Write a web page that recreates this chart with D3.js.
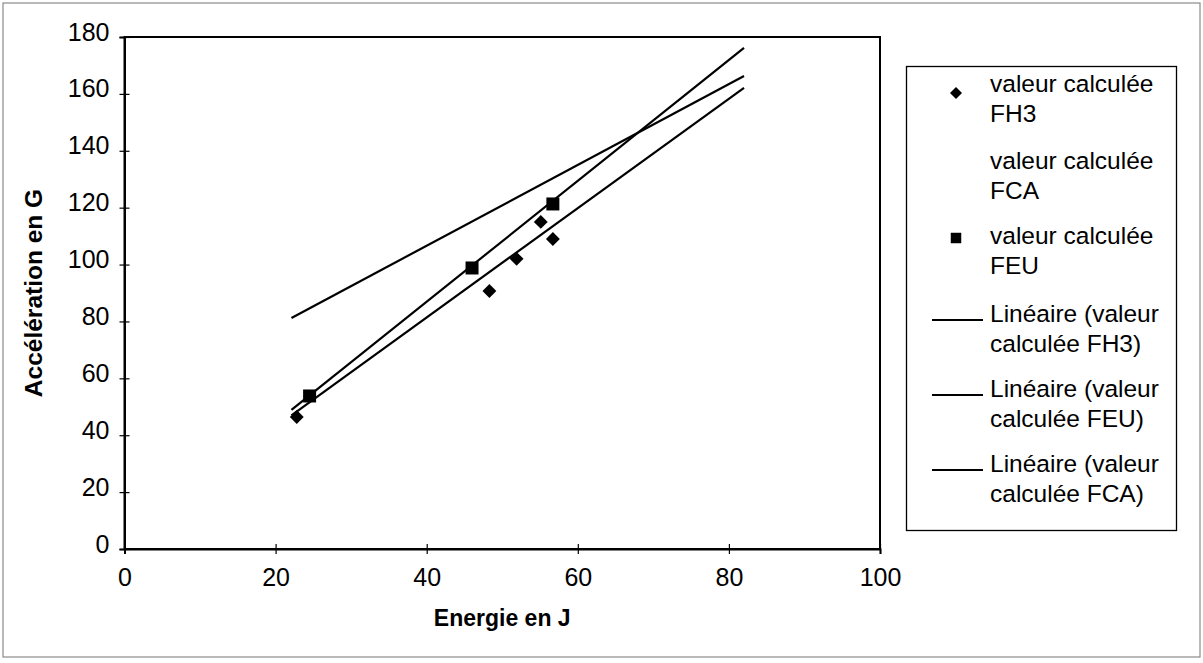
<!DOCTYPE html>
<html>
<head>
<meta charset="utf-8">
<script src="https://cdn.jsdelivr.net/npm/d3@7"></script>
<style>
  body { margin: 0; background: #fff; }
  text { font-family: "Liberation Sans", Arial, sans-serif; fill: #000; }
</style>
</head>
<body>
<div id="chart"></div>
<script>
// values
const fh3X = [22.8, 48.3, 51.9, 55.1, 56.7];
const fh3Y = [46.4, 90.7, 102.0, 115.0, 109.0];
const feuX = [24.5, 46.0, 56.7];
const feuY = [53.8, 98.8, 121.3];

// trend lines (start / end)
const trendFH3 = [[22.1, 47.0], [82.0, 162.1]];
const trendFEU = [[22.1, 48.9], [82.0, 176.2]];
const trendFCA = [[22.1, 81.2], [82.0, 166.3]];

const xTicks = [0, 20, 40, 60, 80, 100];
const yTicks = [0, 20, 40, 60, 80, 100, 120, 140, 160, 180];

const legendItems = [
  {lines: ["valeur calculée", "FH3"], type: "diamond"},
  {lines: ["valeur calculée", "FCA"], type: "none"},
  {lines: ["valeur calculée", "FEU"], type: "square"},
  {lines: ["Linéaire (valeur", "calculée FH3)"], type: "line"},
  {lines: ["Linéaire (valeur", "calculée FEU)"], type: "line"},
  {lines: ["Linéaire (valeur", "calculée FCA)"], type: "line"}
];

const W = 1203, H = 663;
const plot = {left: 124.5, right: 880, top: 37, bottom: 549};

const svg = d3.select("#chart").append("svg")
  .attr("width", W)
  .attr("height", H);

// outer frame of the scanned chart
svg.append("rect")
  .attr("x", 3).attr("y", 3)
  .attr("width", W - 6).attr("height", H - 9)
  .attr("fill", "none")
  .attr("stroke", "#8a8a8a")
  .attr("stroke-width", 1.2);

const x = d3.scaleLinear().domain([0, 100]).range([plot.left, plot.right]);
const y = d3.scaleLinear().domain([0, 180]).range([plot.bottom, plot.top]);

// plot area border
svg.append("rect")
  .attr("x", plot.left).attr("y", plot.top)
  .attr("width", plot.right - plot.left)
  .attr("height", plot.bottom - plot.top)
  .attr("fill", "none")
  .attr("stroke", "#000")
  .attr("stroke-width", 2);

/* Axes */
const xAxis = d3.axisBottom(x).tickValues(xTicks).tickSize(5).tickPadding(14).tickFormat(d3.format("d"));
const yAxis = d3.axisLeft(y).tickValues(yTicks).tickSize(5).tickPadding(10).tickFormat(d3.format("d"));

const gx = svg.append("g")
  .attr("transform", `translate(0, ${plot.bottom})`)
  .call(xAxis);
gx.selectAll(".tick line").attr("y1", -5).attr("y2", 5).attr("stroke-width", 1.2);
gx.select(".domain").attr("stroke-width", 2);
gx.selectAll("text").attr("font-size", 25).attr("font-family", "Liberation Sans, Arial, sans-serif");

const gy = svg.append("g")
  .attr("transform", `translate(${plot.left}, 0)`)
  .call(yAxis);
gy.selectAll(".tick line").attr("x1", -5).attr("x2", 5).attr("stroke-width", 1.2);
gy.select(".domain").attr("stroke-width", 2);
gy.selectAll("text").attr("font-size", 25).attr("dy", "0.12em").attr("font-family", "Liberation Sans, Arial, sans-serif");

// axis titles
svg.append("text")
  .attr("x", (plot.left + plot.right) / 2)
  .attr("y", 626)
  .attr("text-anchor", "middle")
  .attr("font-size", 23)
  .attr("font-weight", "bold")
  .text("Energie en J");

svg.append("text")
  .attr("transform", `translate(42, ${(plot.top + plot.bottom) / 2}) rotate(-90)`)
  .attr("text-anchor", "middle")
  .attr("font-size", 24.5)
  .attr("font-weight", "bold")
  .text("Accélération en G");

/* Trend lines */
const line = d3.line()
  .x(d => x(d[0]))
  .y(d => y(d[1]));

[trendFCA, trendFEU, trendFH3].forEach(t => {
  svg.append("path")
    .attr("d", line(t))
    .attr("fill", "none")
    .attr("stroke", "#000")
    .attr("stroke-width", 2.2);
});

/* Markers */
const diamond = d3.symbol().type(d3.symbolSquare).size(96);
const square = d3.symbol().type(d3.symbolSquare).size(169);

svg.append("g")
  .selectAll("path")
  .data(fh3X.map((v, i) => [v, fh3Y[i]]))
  .enter().append("path")
  .attr("d", diamond)
  .attr("transform", d => `translate(${x(d[0])}, ${y(d[1])}) rotate(45)`)
  .attr("fill", "#000");

svg.append("g")
  .selectAll("path")
  .data(feuX.map((v, i) => [v, feuY[i]]))
  .enter().append("path")
  .attr("d", square)
  .attr("transform", d => `translate(${x(d[0])}, ${y(d[1])})`)
  .attr("fill", "#000");

/* Legend */
const legend = svg.append("g");
legend.append("rect")
  .attr("x", 906.5).attr("y", 66.5)
  .attr("width", 270).attr("height", 464)
  .attr("fill", "#fff")
  .attr("stroke", "#000")
  .attr("stroke-width", 1.3);

const entryTop = [83, 160, 235, 313, 388, 463];
legendItems.forEach((item, i) => {
  const g = legend.append("g");
  item.lines.forEach((t, j) => {
    g.append("text")
      .attr("x", 990)
      .attr("y", entryTop[i] + j * 30)
      .attr("dy", "0.36em")
      .attr("font-size", 24.5)
      .text(t);
  });
  if (item.type === "diamond") {
    g.append("path")
      .attr("d", d3.symbol().type(d3.symbolSquare).size(72)())
      .attr("transform", `translate(956, ${entryTop[i] + 10}) rotate(45)`);
  } else if (item.type === "square") {
    g.append("path")
      .attr("d", d3.symbol().type(d3.symbolSquare).size(110)())
      .attr("transform", `translate(956, ${entryTop[i] + 3})`);
  } else if (item.type === "line") {
    g.append("line")
      .attr("x1", 932).attr("x2", 983)
      .attr("y1", entryTop[i] + 7).attr("y2", entryTop[i] + 7)
      .attr("stroke", "#000")
      .attr("stroke-width", 2);
  }
});
</script>
</body>
</html>
